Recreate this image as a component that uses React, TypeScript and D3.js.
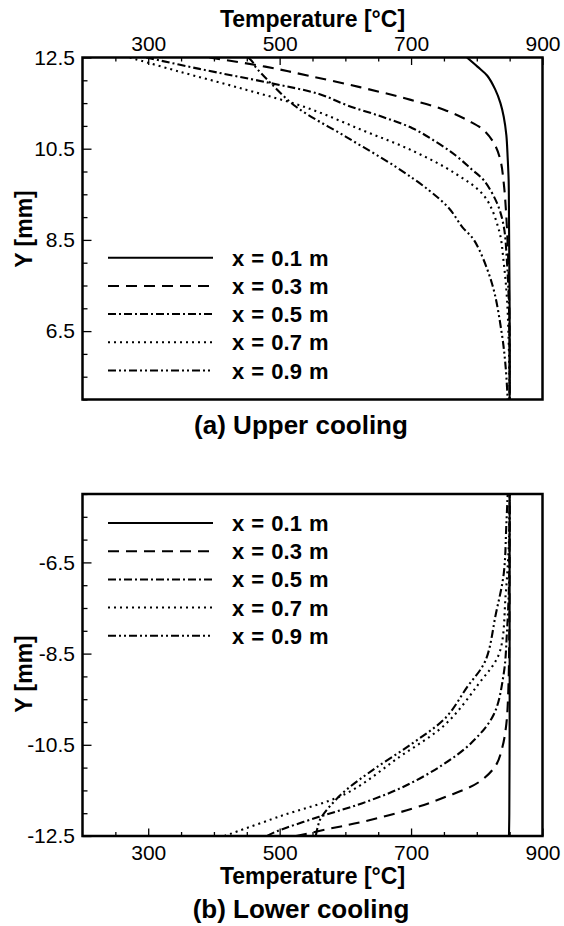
import { useEffect, useRef } from 'react';
import * as d3 from 'd3';

type Pt = [number, number]; // [Y mm, T °C]

const seriesLabels = ['x = 0.1 m', 'x = 0.3 m', 'x = 0.5 m', 'x = 0.7 m', 'x = 0.9 m'];

const tempMajorTicks = [300, 500, 700, 900];
const tempMinorTicks = [250, 350, 400, 450, 550, 600, 650, 750, 800, 850];
const upperMajorTicks = [6.5, 8.5, 10.5, 12.5];
const lowerMajorTicks = [-12.5, -10.5, -8.5, -6.5];

// (a) Upper cooling
const upper01: Pt[] = [[12.5, 785], [12.3, 801], [12.1, 816], [11.8, 828], [11.5, 836], [11.2, 841], [10.8, 845], [10.3, 847], [9.8, 848.5], [9, 849], [8, 849.5], [7, 850], [5, 850]];
const upper03: Pt[] = [[12.5, 393], [12.3, 478], [12.1, 544], [11.85, 622], [11.6, 692], [11.35, 751], [11.1, 789], [10.9, 811], [10.6, 827], [10.25, 836], [9.75, 841], [9, 845], [8, 848], [7, 849.5], [6, 850], [5, 850]];
const upper05: Pt[] = [[12.5, 297], [12.25, 378], [11.95, 482], [11.7, 560], [11.45, 603], [11.2, 656], [10.95, 702], [10.65, 738], [10.35, 768], [10.05, 792], [9.8, 811], [9.3, 831], [8.8, 841], [8, 846], [7, 849], [6, 850], [5, 850]];
const upper07: Pt[] = [[12.5, 272], [12.2, 345], [11.8, 447], [11.4, 541], [10.9, 627], [10.45, 703], [9.95, 768], [9.45, 812], [8.7, 834], [8, 841], [7.2, 846], [6, 849], [5, 850]];
const upper09: Pt[] = [[12.5, 452], [12.4, 459], [12.3, 463], [11.93, 487], [11.42, 525], [10.76, 601], [10.1, 677], [9.59, 727], [9.19, 758], [8.78, 778], [8.49, 796], [7.55, 823], [6.45, 838], [5.7, 844], [5, 847]];

// (b) Lower cooling
const lower01: Pt[] = [[-5, 850], [-8, 850], [-10, 850], [-12, 849.5], [-12.5, 849]];
const lower03: Pt[] = [[-12.5, 525], [-12.34, 576], [-12.19, 626], [-11.9, 702], [-11.64, 753], [-11.32, 803], [-10.95, 829], [-10.55, 839], [-10.04, 845], [-9.3, 848], [-8, 849.5], [-5, 850]];
const lower05: Pt[] = [[-12.5, 481], [-12.4, 495], [-12.08, 560], [-11.78, 626], [-11.43, 687], [-10.95, 747], [-10.44, 793], [-9.83, 826], [-8.94, 841], [-8, 846], [-7, 849], [-5, 850]];
const lower07: Pt[] = [[-12.5, 416], [-12.07, 500], [-11.57, 601], [-10.77, 682], [-10.04, 753], [-9.16, 803], [-8.5, 834], [-7.2, 844], [-6, 849], [-5, 850]];
const lower09: Pt[] = [[-12.5, 555], [-12.3, 558], [-12.1, 563], [-11.57, 595], [-11.06, 641], [-10.47, 702], [-9.9, 753], [-9.24, 785], [-8.66, 813], [-7.63, 829], [-6.75, 841], [-5.66, 845], [-5, 847]];

const dashes = ['none', '11,7', '8,3,2,3', '2,4', '8,3,2,3,2,3'];
const FONT = "'Liberation Sans', Arial, sans-serif";

export default function App() {
  const svgRef = useRef<SVGSVGElement>(null);

  useEffect(() => {
    const svg = d3.select(svgRef.current);
    svg.selectAll('*').remove();

    const left = 82.5;
    const right = 542.5;
    const x = d3.scaleLinear().domain([200, 900]).range([left, right]);

    const drawPanel = (opts: {
      id: string;
      top: number;
      bottom: number;
      yDomain: [number, number];
      yMajor: number[];
      series: Pt[][];
      axisTop: boolean;
      legendY: number;
      caption: string;
      captionY: number;
      titleY: number;
      yLabelY: number;
    }) => {
      const y = d3.scaleLinear().domain(opts.yDomain).range([opts.bottom, opts.top]);
      const g = svg.append('g');

      // clip
      g.append('clipPath').attr('id', opts.id)
        .append('rect')
        .attr('x', left).attr('y', opts.top)
        .attr('width', right - left).attr('height', opts.bottom - opts.top);

      const line = d3.line<Pt>()
        .x(d => x(d[1]))
        .y(d => y(d[0]))
        .curve(d3.curveCatmullRom.alpha(0.5));

      g.append('g').attr('clip-path', `url(#${opts.id})`)
        .selectAll('path')
        .data(opts.series)
        .enter()
        .append('path')
        .attr('d', d => line(d))
        .attr('fill', 'none')
        .attr('stroke', '#000')
        .attr('stroke-width', 2.1)
        .attr('stroke-dasharray', (_, i) => dashes[i]);

      // x axis (major + minor, ticks inward)
      const xAxisY = opts.axisTop ? opts.top : opts.bottom;
      const makeX = opts.axisTop ? d3.axisTop : d3.axisBottom;
      const xMinor = g.append('g').attr('transform', `translate(0,${xAxisY})`)
        .call(makeX(x).tickValues(tempMinorTicks).tickSizeInner(-4).tickSizeOuter(0).tickFormat(() => ''));
      const xMajor = g.append('g').attr('transform', `translate(0,${xAxisY})`)
        .call(makeX(x).tickValues(tempMajorTicks).tickSizeInner(-7.5).tickSizeOuter(0)
          .tickPadding(opts.axisTop ? 7 : 9).tickFormat(d => String(d)));

      // y axis
      const [y0, y1] = opts.yDomain;
      const yMinorVals = d3.range(y0, y1 + 0.01, 0.5).filter(v => !opts.yMajor.some(m => Math.abs(m - v) < 1e-6));
      const yMinor = g.append('g').attr('transform', `translate(${left},0)`)
        .call(d3.axisLeft(y).tickValues(yMinorVals).tickSizeInner(-5).tickSizeOuter(0).tickFormat(() => ''));
      const yMajor = g.append('g').attr('transform', `translate(${left},0)`)
        .call(d3.axisLeft(y).tickValues(opts.yMajor).tickSizeInner(-9).tickSizeOuter(0)
          .tickPadding(7.5).tickFormat(d => (+d).toFixed(1)));

      [xMinor, xMajor, yMinor, yMajor].forEach(a => {
        a.select('.domain').remove();
        a.selectAll('line').attr('stroke', '#000').attr('stroke-width', 1.3);
        a.selectAll('text').attr('font-family', FONT).attr('font-size', 21).attr('fill', '#000');
      });

      // frame
      g.append('rect')
        .attr('x', left).attr('y', opts.top)
        .attr('width', right - left).attr('height', opts.bottom - opts.top)
        .attr('fill', 'none').attr('stroke', '#000').attr('stroke-width', 2.5);

      // legend
      const leg = g.append('g');
      seriesLabels.forEach((lab, i) => {
        const ly = opts.legendY + i * 28.2;
        leg.append('line')
          .attr('x1', 108).attr('x2', 213).attr('y1', ly).attr('y2', ly)
          .attr('stroke', '#000').attr('stroke-width', 2)
          .attr('stroke-dasharray', dashes[i]);
        leg.append('text')
          .attr('x', 232).attr('y', ly + 8)
          .attr('font-family', FONT).attr('font-size', 22).attr('font-weight', 'bold')
          .attr('word-spacing', 1)
          .text(lab);
      });

      // titles
      g.append('text')
        .attr('x', (left + right) / 2).attr('y', opts.titleY)
        .attr('text-anchor', 'middle')
        .attr('font-family', FONT).attr('font-size', 23).attr('font-weight', 'bold')
        .text('Temperature [°C]');

      g.append('text')
        .attr('transform', `translate(32,${opts.yLabelY}) rotate(-90)`)
        .attr('text-anchor', 'middle')
        .attr('font-family', FONT).attr('font-size', 23).attr('font-weight', 'bold')
        .text('Y [mm]');

      g.append('text')
        .attr('x', 301).attr('y', opts.captionY)
        .attr('text-anchor', 'middle')
        .attr('font-family', FONT).attr('font-size', 26).attr('font-weight', 'bold')
        .text(opts.caption);
    };

    drawPanel({
      id: 'clip-upper',
      top: 57.5,
      bottom: 399.5,
      yDomain: [5, 12.5],
      yMajor: upperMajorTicks,
      series: [upper01, upper03, upper05, upper07, upper09],
      axisTop: true,
      legendY: 257.7,
      caption: '(a) Upper cooling',
      captionY: 434,
      titleY: 27,
      yLabelY: 229,
    });

    drawPanel({
      id: 'clip-lower',
      top: 494,
      bottom: 836,
      yDomain: [-12.5, -5],
      yMajor: lowerMajorTicks,
      series: [lower01, lower03, lower05, lower07, lower09],
      axisTop: false,
      legendY: 523,
      caption: '(b) Lower cooling',
      captionY: 918,
      titleY: 884,
      yLabelY: 674,
    });
  }, []);

  return (
    <svg
      ref={svgRef}
      width={564}
      height={926}
      style={{ position: 'absolute', left: 0, top: 0, background: '#fff' }}
    />
  );
}
